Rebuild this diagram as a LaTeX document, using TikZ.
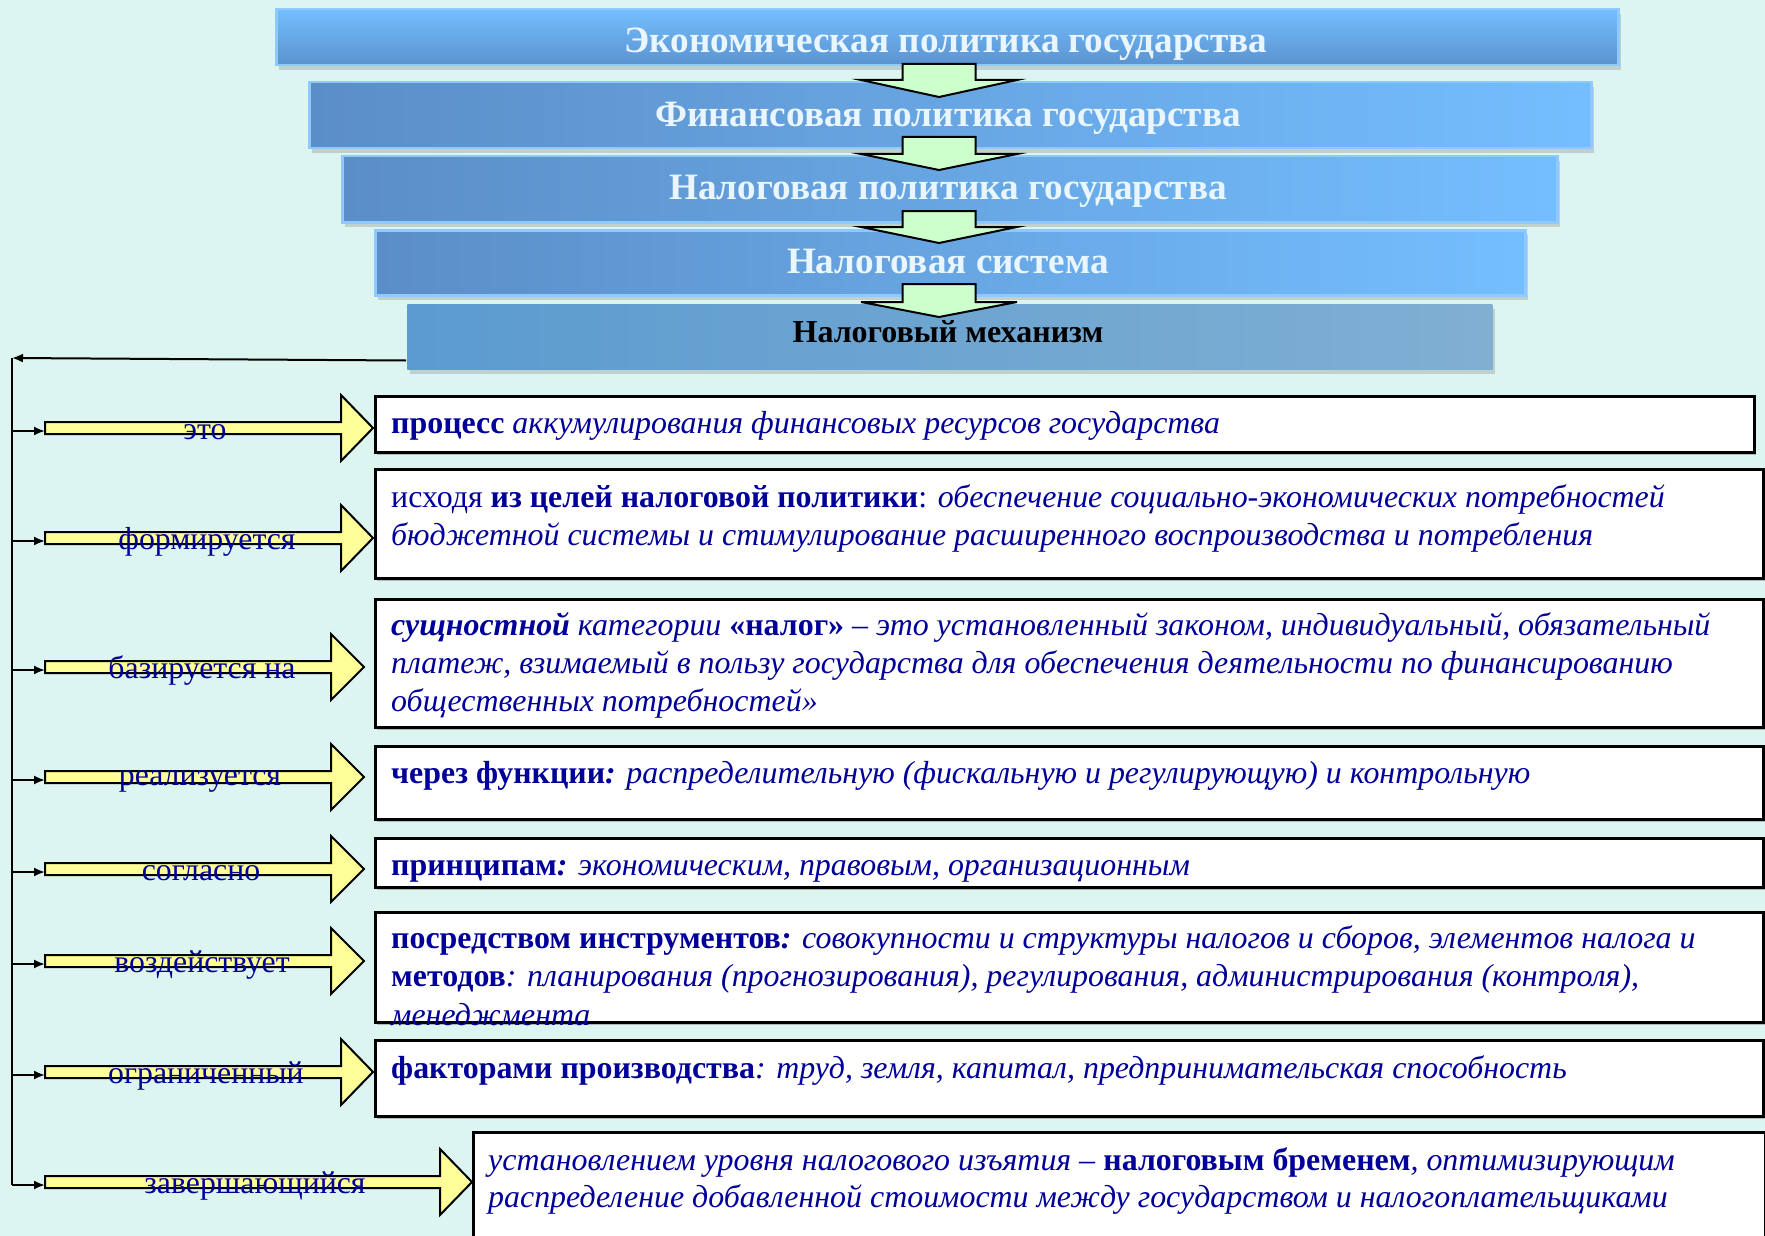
\documentclass[tikz,border=0pt]{standalone}
\usepackage{fontspec}
\setmainfont{Liberation Serif}
\usetikzlibrary{shadows,arrows.meta,calc}
\definecolor{bg}{HTML}{DDF5F0}
\definecolor{navy}{HTML}{000099}
\definecolor{bluelight}{HTML}{74BEFF}
\definecolor{bluedark}{HTML}{5B8EC7}
\definecolor{blueone}{HTML}{5B93CF}
\definecolor{bluefiveL}{HTML}{5B9BD0}
\definecolor{bluefiveR}{HTML}{80AFD2}
\definecolor{tborder}{HTML}{8EC9FF}
\definecolor{ttextc}{HTML}{EAF6FF}
\definecolor{lgreen}{HTML}{CCFFCC}
\definecolor{lyellow}{HTML}{FFFF99}
\tikzset{
  tbox/.style={draw=tborder, line width=2.5pt, inner sep=0pt, anchor=north west,
    drop shadow={shadow xshift=3pt, shadow yshift=-5pt, fill=black!45, opacity=.35}},
  ttext/.style={anchor=base, inner sep=0pt, text=ttextc, font=\bfseries\fontsize{37.2}{40}\selectfont},
  rbox/.style={draw=black, line width=2.5pt, fill=white, inner sep=0pt, anchor=north west,
    drop shadow={shadow xshift=2pt, shadow yshift=-3pt, fill=black!50, opacity=.5}},
  body/.style={anchor=base west, inner sep=0pt, text=navy, font=\fontsize{31.9}{38}\selectfont},
  lbl/.style={inner sep=0pt, text=navy, font=\fontsize{31.8}{36}\selectfont},
  yarr/.style={draw=black, line width=2pt, fill=lyellow},
  garr/.style={draw=black, line width=2pt, fill=lgreen},
  conn/.style={draw=black, line width=2pt},
}
\newcommand{\GArrow}[3]{%
  \draw[garr] (902.5,#1) -- (975.5,#1) -- (975.5,#2) -- (1017,#2) -- (939,#3) -- (861,#2) -- (902.5,#2) -- cycle;}
\newcommand{\YArrow}[6]{%
  \coordinate (#1v) at (12,{#2+3});
  \coordinate (#1t) at (45,{#2+3});
  \draw[yarr] (45,{#2-6}) -- (#3,{#2-6}) -- (#3,{#2-33}) -- (#4,#2) -- (#3,{#2+33}) -- (#3,{#2+6}) -- (45,{#2+6}) -- cycle;
  \node[lbl] (#1l) at (#5,{#2+4}) {#6};
  \draw[conn,-{Latex[length=11pt,width=9pt]}] (#1v) -- (#1t);}
\begin{document}
\begin{tikzpicture}[x=1pt,y=-1pt]
\useasboundingbox (0,0) rectangle (1765,1236);
\fill[bg] (0,0) rectangle (1765,1236);

% top cascade
\node[tbox, top color=bluelight, bottom color=blueone, minimum width=1342pt, minimum height=56pt] (b1) at (275,8) {};
\node[tbox, left color=bluedark, right color=bluelight, minimum width=1282pt, minimum height=66pt] (b2) at (308,81) {};
\node[tbox, left color=bluedark, right color=bluelight, minimum width=1215pt, minimum height=66pt] (b3) at (341,155) {};
\node[tbox, left color=bluedark, right color=bluelight, minimum width=1150pt, minimum height=65pt] (b4) at (374,229) {};
\node[tbox, draw=none, left color=bluefiveL, right color=bluefiveR, minimum width=1085pt, minimum height=65pt] (b5) at (406,303) {};

\node[ttext] (t1) at (946,53) {Экономическая политика государства};
\node[ttext] (t2) at (948,127) {Финансовая политика государства};
\node[ttext] (t3) at (948,200) {Налоговая политика государства};
\node[ttext] (t4) at (948,273) {Налоговая система};
\node[ttext, text=black, font=\bfseries\fontsize{32}{34}\selectfont] (t5) at (948,342) {Налоговый механизм};

\GArrow{64}{80}{97}
\GArrow{137}{154}{170}
\GArrow{211}{227}{243}
\GArrow{284}{302}{317}

% left trunk
\coordinate (lt) at (12,358);
\draw[conn,-{Latex[length=11pt,width=9pt]}] ([yshift=10pt]b5.south west) -- (lt);

% right boxes
\node[rbox, minimum width=1379pt, minimum height=56pt] (rA) at (374,395) {};
\node[rbox, minimum width=1388pt, minimum height=109pt] (rB) at (374,468) {};
\node[rbox, minimum width=1388pt, minimum height=128pt] (rC) at (374,598) {};
\node[rbox, minimum width=1388pt, minimum height=73pt] (rD) at (374,745) {};
\node[rbox, minimum width=1388pt, minimum height=49pt] (rE) at (374,837) {};
\node[rbox, minimum width=1388pt, minimum height=110pt] (rF) at (374,911) {};
\node[rbox, minimum width=1388pt, minimum height=76pt] (rG) at (374,1039) {};
\node[rbox, minimum width=1292pt, minimum height=130pt] (rH) at (472,1131) {};

% yellow arrows and labels
\YArrow{a1}{428}{341}{373}{205}{это}
\YArrow{a2}{538}{341}{373}{207}{формируется}
\YArrow{a3}{667}{331}{364}{202}{базируется на}
\YArrow{a4}{777}{331}{364}{200}{реализуется}
\YArrow{a5}{869}{331}{364}{201}{согласно}
\YArrow{a6}{961}{331}{364}{202}{воздействует}
\YArrow{a7}{1072}{341}{373}{206}{ограниченный}
\YArrow{a8}{1182}{440}{472}{255}{завершающийся}
\draw[conn] (lt) -- (a8v);

% texts
\node[body] (xA1) at (391,433) {\textbf{процесс} \textit{аккумулирования финансовых ресурсов государства}};
\node[body] (xB1) at (391,507) {исходя \textbf{из целей налоговой политики}: \textit{обеспечение социально-экономических потребностей}};
\node[body] (xB2) at (391,545) {\textit{бюджетной системы и стимулирование расширенного воспроизводства и потребления}};
\node[body] (xC1) at (391,635) {\textbf{\textit{сущностной}} \textit{категории} \textbf{«налог»} \textit{– это установленный законом, индивидуальный, обязательный}};
\node[body] (xC2) at (391,673) {\textit{платеж, взимаемый в пользу государства для обеспечения деятельности по финансированию}};
\node[body] (xC3) at (391,711) {\textit{общественных потребностей»}};
\node[body] (xD1) at (391,783) {\textbf{через функции}\textbf{\textit{:}} \textit{распределительную (фискальную и регулирующую) и контрольную}};
\node[body] (xE1) at (391,875) {\textbf{принципам}\textbf{\textit{:}} \textit{экономическим, правовым, организационным}};
\node[body] (xF1) at (391,948) {\textbf{посредством инструментов}\textbf{\textit{:}} \textit{совокупности и структуры налогов и сборов, элементов налога и}};
\node[body] (xF2) at (391,986) {\textbf{методов}\textit{: планирования (прогнозирования), регулирования, администрирования (контроля),}};
\node[body] (xF3) at (391,1025) {\textit{менеджмента}};
\node[body] (xG1) at (391,1078) {\textbf{факторами производства}\textit{: труд, земля, капитал, предпринимательская способность}};
\node[body] (xH1) at (488,1170) {\textit{установлением уровня налогового изъятия –} \textbf{налоговым бременем}\textit{, оптимизирующим}};
\node[body] (xH2) at (488,1207) {\textit{распределение добавленной стоимости между государством и налогоплательщиками}};
\end{tikzpicture}
\end{document}
